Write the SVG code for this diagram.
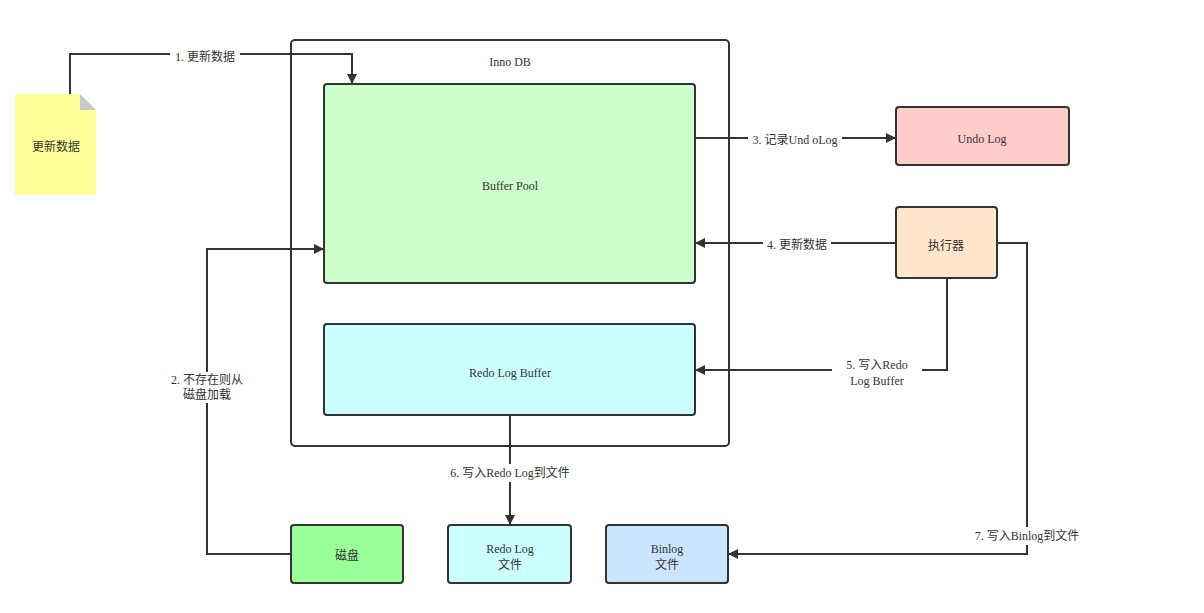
<svg xmlns="http://www.w3.org/2000/svg" width="1204" height="613" viewBox="0 0 1204 613">
<style>
.t{font-family:"Liberation Serif","Noto Sans CJK SC",serif;font-size:12px;fill:#333;text-anchor:middle;dominant-baseline:central}
.n{stroke:#333;stroke-width:2}
.c{fill:none;stroke:#333;stroke-width:2}
.bg{fill:#fff}
</style>
<defs>
<marker id="ah" viewBox="0 0 10 10" refX="10" refY="5" markerWidth="10" markerHeight="10" markerUnits="userSpaceOnUse" orient="auto">
<path d="M0,0 L10,5 L0,10 z" fill="#333"/>
</marker>
</defs>
<rect width="1204" height="613" fill="#fff"/>
<g id="innodb">
<rect x="291" y="40" width="438" height="406" rx="4" fill="#fff" class="n"/>
<text x="510" y="62" class="t">Inno DB</text>
</g>
<g id="buffer-pool">
<rect x="324" y="84" width="371" height="199" rx="3" fill="#ccffcc" class="n"/>
<text x="510" y="186" class="t">Buffer Pool</text>
</g>
<g id="redo-log-buffer">
<rect x="324" y="324" width="371" height="91" rx="3" fill="#ccffff" class="n"/>
<text x="510" y="373" class="t">Redo Log Buffer</text>
</g>
<g id="undo-log">
<rect x="896" y="107" width="173" height="58" rx="3" fill="#ffcccc" class="n"/>
<text x="982" y="139" class="t">Undo Log</text>
</g>
<g id="executor">
<rect x="896" y="207" width="101" height="71" rx="3" fill="#ffe6cc" class="n"/>
<text x="946" y="246" class="t">执行器</text>
</g>
<g id="disk">
<rect x="291" y="525" width="112" height="58" rx="3" fill="#99ff99" class="n"/>
<text x="347" y="556" class="t">磁盘</text>
</g>
<g id="redo-log-file">
<rect x="448" y="525" width="123" height="58" rx="3" fill="#ccffff" class="n"/>
<text x="510" y="549" class="t">Redo Log</text>
<text x="510" y="565" class="t">文件</text>
</g>
<g id="binlog-file">
<rect x="606" y="525" width="122" height="58" rx="3" fill="#cce5ff" class="n"/>
<text x="667" y="549" class="t">Binlog</text>
<text x="667" y="565" class="t">文件</text>
</g>
<g id="note">
<path d="M15,94 L80,94 L96,110 L96,195 L15,195 z" fill="#ffff99"/>
<path d="M80,94 L96,110 L80,110 z" fill="#c8c8c8"/>
<text x="56" y="147" class="t">更新数据</text>
</g>
<g id="connectors">
<path class="c" d="M70,94 V54 H352 V84" marker-end="url(#ah)"/>
<rect class="bg" x="170" y="49" width="70" height="16"/>
<text x="205" y="57" class="t">1. 更新数据</text>
<path class="c" d="M291,554 H207 V249 H324" marker-end="url(#ah)"/>
<rect class="bg" x="165" y="372" width="84" height="31"/>
<text x="207" y="380" class="t">2. 不存在则从</text>
<text x="207" y="395" class="t">磁盘加载</text>
<path class="c" d="M695,138 H896" marker-end="url(#ah)"/>
<rect class="bg" x="748" y="131" width="94" height="18"/>
<text x="795" y="140" class="t">3. 记录Und oLog</text>
<path class="c" d="M896,243 H695" marker-end="url(#ah)"/>
<rect class="bg" x="763" y="236" width="68" height="18"/>
<text x="797" y="245" class="t">4. 更新数据</text>
<path class="c" d="M947,278 V370 H695" marker-end="url(#ah)"/>
<rect class="bg" x="832" y="357" width="90" height="33"/>
<text x="877" y="365" class="t">5. 写入Redo</text>
<text x="877" y="381" class="t">Log Buffer</text>
<path class="c" d="M510,415 V525" marker-end="url(#ah)"/>
<rect class="bg" x="444" y="464" width="132" height="18"/>
<text x="510" y="473" class="t">6. 写入Redo Log到文件</text>
<path class="c" d="M997,243 H1027 V554 H728" marker-end="url(#ah)"/>
<rect class="bg" x="968" y="527" width="118" height="18"/>
<text x="1027" y="536" class="t">7. 写入Binlog到文件</text>
</g>
</svg>
